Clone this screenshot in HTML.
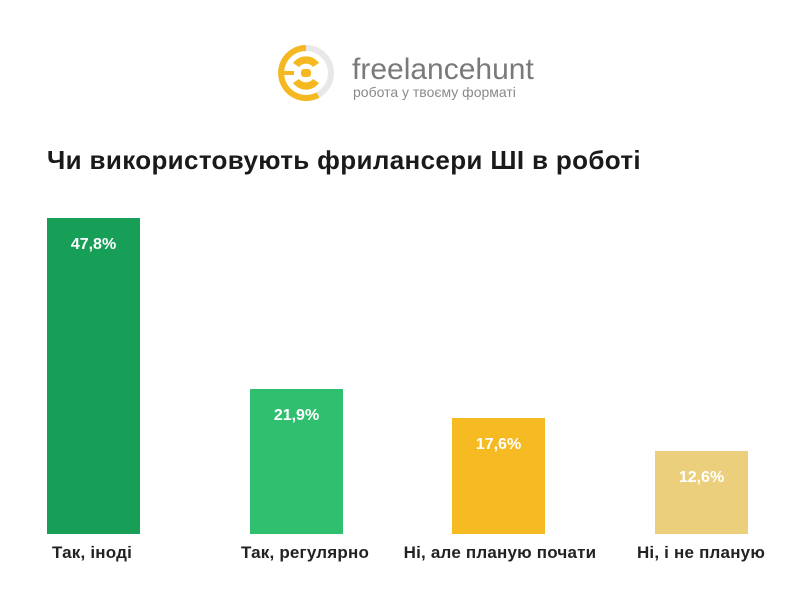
<!DOCTYPE html>
<html><head><meta charset="utf-8"><style>
body{margin:0;width:810px;height:608px;background:#fff;overflow:hidden;position:relative;font-family:"Liberation Sans","DejaVu Sans",sans-serif}
.bar{position:absolute;width:93px;bottom:74px}
.v{position:absolute;width:93px;text-align:center;color:#fff;font-weight:bold;font-size:16px}
.l{position:absolute;top:543px;width:200px;text-align:center;color:#222;font-size:17px;font-weight:bold;letter-spacing:0.2px}
</style></head><body>
<svg style="position:absolute;left:0;top:0" width="810" height="130">
<circle cx="306" cy="73" r="25" fill="none" stroke="#e8e8e8" stroke-width="6"/>
<path d="M306 48 A25 25 0 1 0 318 95" fill="none" stroke="#f5b820" stroke-width="6"/>
<path d="M293 63 A16 16 0 0 1 319 63 L313 67 A9 9 0 0 0 299 67Z" fill="#f5b820"/>
<path d="M293 83 A16 16 0 0 0 319 83 L313 79 A9 9 0 0 1 299 79Z" fill="#f5b820"/>
<rect x="301" y="69" width="10" height="8" rx="3" fill="#f5b820"/>
<rect x="280" y="71" width="14" height="4" fill="#f5b820"/>
<text x="352" y="79" font-size="30" fill="#7a7a7a" font-family="Liberation Sans,sans-serif">freelancehunt</text>
<text x="353" y="97" font-size="14" fill="#8a8a8a" font-family="Liberation Sans,sans-serif">робота у твоєму форматі</text>
</svg>
<div style="position:absolute;left:47px;top:145px;font-size:26px;font-weight:bold;color:#1a1a1a;letter-spacing:0.35px">Чи використовують фрилансери ШІ в роботі</div>
<div class="bar" style="left:47px;top:218px;background:#179f57"></div>
<div class="bar" style="left:250px;top:389px;background:#2fbf6e"></div>
<div class="bar" style="left:452px;top:418px;background:#f6bb23"></div>
<div class="bar" style="left:655px;top:451px;background:#ebcf7c"></div>
<div class="v" style="left:47px;top:236px">47,8%</div>
<div class="v" style="left:250px;top:407px">21,9%</div>
<div class="v" style="left:452px;top:436px">17,6%</div>
<div class="v" style="left:655px;top:469px">12,6%</div>
<div class="l" style="left:-8px">Так, іноді</div>
<div class="l" style="left:205px">Так, регулярно</div>
<div class="l" style="left:400px">Ні, але планую почати</div>
<div class="l" style="left:601px">Ні, і не планую</div>
</body></html>
